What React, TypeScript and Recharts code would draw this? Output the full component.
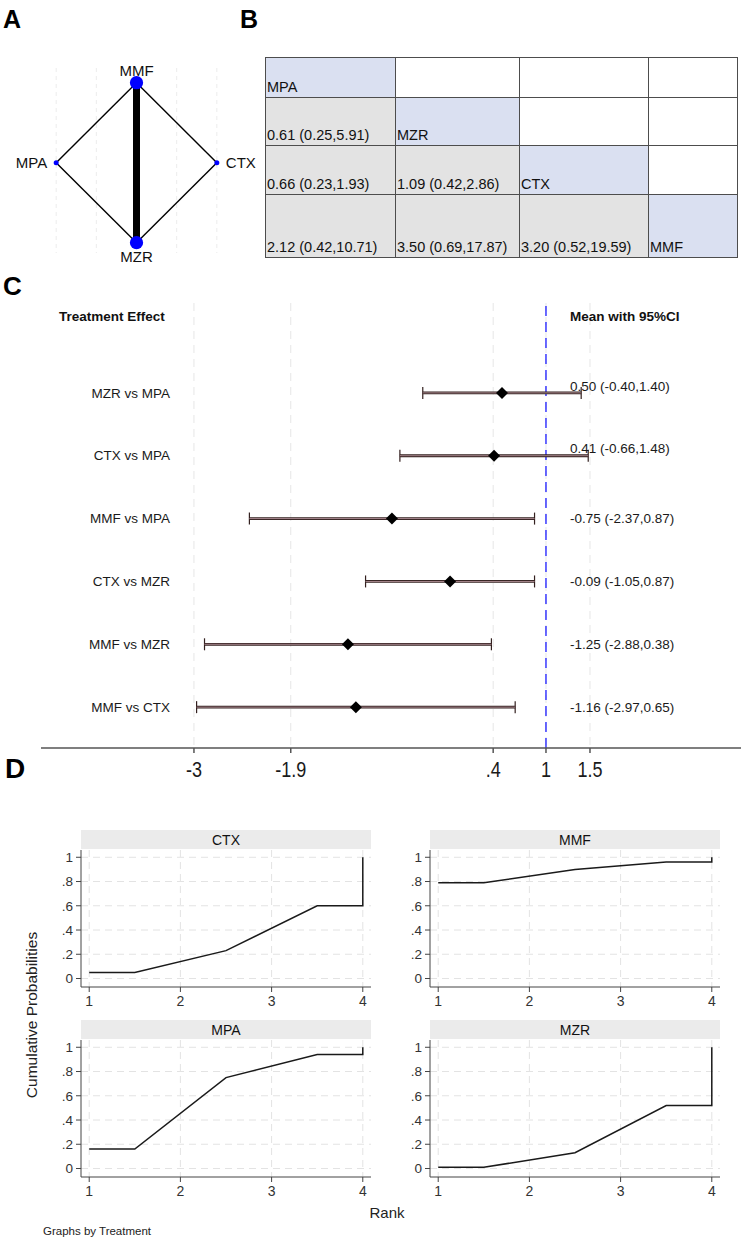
import React from "react";
import {
  ScatterChart,
  Scatter,
  LineChart,
  Line,
  XAxis,
  YAxis,
  CartesianGrid,
  ReferenceLine,
  ErrorBar,
} from "recharts";

// ---- network graph (A) ----
const nodeNames = ["MMF", "MPA", "CTX", "MZR"];
const nodeX = [0, -1, 1, 0];
const nodeY = [1, 0, 0, -1];
const nodeWeight = [7, 1, 1, 7];
const nodeLabelSide = ["top", "left", "right", "bottom"];
const edgeFrom = ["MMF", "MMF", "MMF", "MPA", "CTX"];
const edgeTo = ["MPA", "CTX", "MZR", "MZR", "MZR"];
const edgeWeight = [1, 1, 5, 1, 1];
const networkGrid = [-1, -0.5, 0, 0.5, 1];

// ---- league table (B) ----
const leagueTreatments = ["MPA", "MZR", "CTX", "MMF"];
const leagueEst = [[], [0.61], [0.66, 1.09], [2.12, 3.5, 3.2]];
const leagueLo = [[], [0.25], [0.23, 0.42], [0.42, 0.69, 0.52]];
const leagueHi = [[], [5.91], [1.93, 2.86], [10.71, 17.87, 19.59]];

// ---- forest plot (C) ----
const comparisons = ["MZR vs MPA", "CTX vs MPA", "MMF vs MPA", "CTX vs MZR", "MMF vs MZR", "MMF vs CTX"];
const effectMean = [0.5, 0.41, -0.75, -0.09, -1.25, -1.16];
const effectLo = [-0.4, -0.66, -2.37, -1.05, -2.88, -2.97];
const effectHi = [1.4, 1.48, 0.87, 0.87, 0.38, 0.65];
const forestTicks = [-3, -1.9, 0.4, 1, 1.5];

// ---- cumulative rank probabilities (D) ----
const rankSteps = [1, 1.5, 2.5, 3.5, 4, 4];
const cumCTX = [0.05, 0.05, 0.23, 0.6, 0.6, 1];
const cumMMF = [0.79, 0.79, 0.9, 0.96, 0.96, 1];
const cumMPA = [0.16, 0.16, 0.75, 0.94, 0.94, 1];
const cumMZR = [0.01, 0.01, 0.13, 0.52, 0.52, 1];
const rankTicks = [1, 2, 3, 4];
const probTicks = [0, 0.2, 0.4, 0.6, 0.8, 1];

const ARIAL = "Arial, 'Liberation Sans', Helvetica, sans-serif";

// Stata drops the leading zero: .4, -.2
const stataNum = (v: number) => {
  if (v === 0) return "0";
  return String(v).replace(/^(-?)0\./, "$1.");
};

const f2 = (v: number) => v.toFixed(2);

const nodes = nodeNames.map((name, i) => ({
  name,
  x: nodeX[i],
  y: nodeY[i],
  weight: nodeWeight[i],
  side: nodeLabelSide[i],
}));
const nodeByName = (n: string) => nodes.find((d) => d.name === n)!;

const NodeShape = (props: any) => {
  const { cx, cy, payload } = props;
  const r = 2.5 * Math.sqrt(payload.weight);
  let tx = cx;
  let ty = cy;
  let anchor = "middle";
  if (payload.side === "top") ty = cy - 7;
  if (payload.side === "bottom") ty = cy + 19;
  if (payload.side === "left") {
    tx = cx - 9;
    ty = cy + 5.5;
    anchor = "end";
  }
  if (payload.side === "right") {
    tx = cx + 9;
    ty = cy + 5.5;
    anchor = "start";
  }
  return (
    <g>
      <circle cx={cx} cy={cy} r={r} fill="#0000ff" />
      <text x={tx} y={ty} textAnchor={anchor} fontSize={15} fontFamily={ARIAL} fill="#111">
        {payload.name}
      </text>
    </g>
  );
};

function NetworkPlot() {
  return (
    <ScatterChart width={260} height={270} margin={{ top: 68, right: 3, bottom: 17, left: 16 }}>
      <CartesianGrid horizontal={false} verticalValues={networkGrid} stroke="#ececec" strokeDasharray="4 4" />
      <XAxis type="number" dataKey="x" domain={[-1.5, 1.5]} ticks={networkGrid} hide />
      <YAxis type="number" dataKey="y" domain={[-1.129, 1.184]} hide />
      {edgeFrom.map((from, i) => {
        const a = nodeByName(from);
        const b = nodeByName(edgeTo[i]);
        return (
          <ReferenceLine
            key={from + edgeTo[i]}
            segment={[
              { x: a.x, y: a.y },
              { x: b.x, y: b.y },
            ]}
            stroke="#000"
            strokeWidth={1.4 * edgeWeight[i]}
            ifOverflow="visible"
          />
        );
      })}
      <Scatter data={nodes} shape={NodeShape} isAnimationActive={false} />
    </ScatterChart>
  );
}

// ---- league table ----
const colWidths = [130, 124, 129, 89];
const rowHeights = [40, 48, 49, 63];

function LeagueTable() {
  const cells: React.ReactNode[] = [];
  leagueTreatments.forEach((rowT, r) => {
    leagueTreatments.forEach((_, c) => {
      let bg = "#ffffff";
      let txt = "";
      if (r === c) {
        bg = "#dae0f1";
        txt = rowT;
      } else if (c < r) {
        bg = "#e3e3e3";
        txt = `${f2(leagueEst[r][c])} (${f2(leagueLo[r][c])},${f2(leagueHi[r][c])})`;
      }
      cells.push(
        <div
          key={`${r}-${c}`}
          style={{
            background: bg,
            borderRight: "1px solid #4d4d4d",
            borderBottom: "1px solid #4d4d4d",
            boxSizing: "border-box",
            display: "flex",
            alignItems: "flex-end",
            paddingLeft: 1,
            paddingBottom: 2,
            fontFamily: ARIAL,
            fontSize: 14.5,
            color: "#111",
            whiteSpace: "nowrap",
          }}
        >
          {txt}
        </div>
      );
    });
  });
  return (
    <div
      style={{
        display: "grid",
        gridTemplateColumns: colWidths.map((w) => `${w}px`).join(" "),
        gridTemplateRows: rowHeights.map((h) => `${h}px`).join(" "),
        borderTop: "1px solid #4d4d4d",
        borderLeft: "1px solid #4d4d4d",
        boxSizing: "border-box",
      }}
    >
      {cells}
    </div>
  );
}

// ---- forest plot ----
const forestRows = comparisons.map((label, i) => ({
  row: i,
  label,
  mean: effectMean[i],
  lo: effectLo[i],
  hi: effectHi[i],
  ciErr: [effectMean[i] - effectLo[i], effectHi[i] - effectMean[i]],
}));

const Diamond = (props: any) => {
  const { cx, cy } = props;
  return <path d={`M${cx},${cy - 6}L${cx + 6},${cy}L${cx},${cy + 6}L${cx - 6},${cy}Z`} fill="#000" />;
};

const ForestRowTick = (props: any) => {
  const { y, payload } = props;
  const r = forestRows[payload.value];
  if (!r) return null;
  // value text is lifted when the interval runs into the text column
  const lift = r.hi > 1.25 ? 7 : 0;
  return (
    <g fontFamily={ARIAL} fontSize={13.5} fill="#1a1a1a">
      <text x={170} y={y} dy="0.35em" textAnchor="end">
        {r.label}
      </text>
      <text x={570} y={y - lift} dy="0.35em" textAnchor="start">
        {`${f2(r.mean)} (${f2(r.lo)},${f2(r.hi)})`}
      </text>
    </g>
  );
};

// the axis labels use a slightly squeezed face
const ForestXTick = (props: any) => {
  const { x, y, payload } = props;
  return (
    <g transform={`translate(${x},${y}) scale(0.82,1)`}>
      <text x={0} y={0} dy="0.71em" textAnchor="middle" fontFamily={ARIAL} fontSize={22} fill="#1a1a1a">
        {stataNum(payload.value)}
      </text>
    </g>
  );
};

function ForestPlot() {
  return (
    <ScatterChart width={741} height={500} margin={{ top: 13, right: 0, bottom: 12, left: 40 }}>
      <CartesianGrid horizontal={false} verticalValues={forestTicks} stroke="#e6e6e6" strokeDasharray="8 6" />
      <XAxis
        type="number"
        dataKey="mean"
        domain={[-4.738, 3.216]}
        ticks={forestTicks}
        interval={0}
        allowDataOverflow
        height={30}
        tickSize={5}
        tickMargin={8}
        stroke="#555"
        strokeWidth={1.5}
        tick={ForestXTick}
      />
      <YAxis
        type="number"
        dataKey="row"
        domain={[-1.43, 5.65]}
        reversed
        allowDataOverflow
        width={1}
        ticks={[0, 1, 2, 3, 4, 5]}
        interval={0}
        axisLine={false}
        tickLine={false}
        tick={ForestRowTick}
      />
      <ReferenceLine x={1} stroke="#1a1aff" strokeDasharray="10 6" strokeWidth={1.3} />
      <Scatter data={forestRows} shape={Diamond} isAnimationActive={false}>
        <ErrorBar dataKey="ciErr" direction="x" width={6} stroke="#33201f" strokeWidth={1.2} isAnimationActive={false} />
        <ErrorBar dataKey="ciErr" direction="x" width={0} stroke="#33201f" strokeWidth={2.8} isAnimationActive={false} />
        <ErrorBar dataKey="ciErr" direction="x" width={0} stroke="#b4939b" strokeWidth={0.9} isAnimationActive={false} />
      </Scatter>
    </ScatterChart>
  );
}

// ---- rankogram panels ----
function RankPanel({ values }: { values: number[] }) {
  const data = rankSteps.map((r, i) => ({ rank: r, p: values[i] }));
  return (
    <LineChart width={331} height={164} data={data} margin={{ top: 2, right: 0, bottom: 0, left: 0 }}>
      <CartesianGrid
        verticalValues={rankTicks}
        horizontalValues={probTicks}
        stroke="#e3e3e3"
        strokeDasharray="7 5"
      />
      <XAxis
        type="number"
        dataKey="rank"
        domain={[0.91, 4.09]}
        ticks={rankTicks}
        interval={0}
        allowDataOverflow
        height={25}
        tickSize={5}
        tickMargin={4}
        stroke="#444"
        tick={{ fontSize: 14, fill: "#333", fontFamily: ARIAL }}
      />
      <YAxis
        type="number"
        domain={[-0.07, 1.06]}
        ticks={probTicks}
        interval={0}
        allowDataOverflow
        width={41}
        tickSize={5}
        tickMargin={3}
        tickFormatter={stataNum}
        stroke="#444"
        tick={{ fontSize: 13.5, fill: "#333", fontFamily: ARIAL }}
      />
      <Line
        type="linear"
        dataKey="p"
        stroke="#1a1a1a"
        strokeWidth={1.5}
        dot={false}
        isAnimationActive={false}
      />
    </LineChart>
  );
}

const panels = [
  { name: "CTX", values: cumCTX, left: 40, top: 848 },
  { name: "MMF", values: cumMMF, left: 389, top: 848 },
  { name: "MPA", values: cumMPA, left: 40, top: 1038 },
  { name: "MZR", values: cumMZR, left: 389, top: 1038 },
];

export default function App() {
  return (
    <div
      style={{
        position: "absolute",
        left: 0,
        top: 0,
        width: 741,
        height: 1240,
        background: "#fff",
        overflow: "hidden",
      }}
    >
      <div style={{ position: "absolute", left: 0, top: 0 }}>
        <NetworkPlot />
      </div>
      <div style={{ position: "absolute", left: 265, top: 57 }}>
        <LeagueTable />
      </div>
      <div style={{ position: "absolute", left: 0, top: 290 }}>
        <ForestPlot />
      </div>
      {panels.map((p) => (
        <div key={p.name} style={{ position: "absolute", left: p.left, top: p.top }}>
          <RankPanel values={p.values} />
        </div>
      ))}
      <svg
        width={741}
        height={1240}
        style={{ position: "absolute", left: 0, top: 0, pointerEvents: "none" }}
      >
        <g fontFamily={ARIAL} fontWeight="bold" fill="#000">
          <text x={3} y={28} fontSize={25}>A</text>
          <text x={240} y={28} fontSize={25}>B</text>
          <text x={3} y={295} fontSize={26}>C</text>
          <text x={5} y={778} fontSize={28}>D</text>
        </g>
        <g fontFamily={ARIAL} fontWeight="bold" fontSize={13.5} fill="#111">
          <text x={59} y={321}>Treatment Effect</text>
          <text x={570} y={321}>Mean with 95%CI</text>
        </g>
        {panels.map((p) => {
          const x = p.left + 41;
          const y = p.top - 18;
          return (
            <g key={p.name}>
              <rect x={x} y={y} width={290} height={19} fill="#ebebeb" />
              <text x={x + 145} y={y + 15} textAnchor="middle" fontFamily={ARIAL} fontSize={14} fill="#111">
                {p.name}
              </text>
            </g>
          );
        })}
        <text
          transform="translate(37,1015) rotate(-90)"
          textAnchor="middle"
          fontFamily={ARIAL}
          fontSize={15.5}
          fill="#222"
        >
          Cumulative Probabilities
        </text>
        <text x={387} y={1218} textAnchor="middle" fontFamily={ARIAL} fontSize={15} fill="#222">
          Rank
        </text>
        <text x={43} y={1235} fontFamily={ARIAL} fontSize={11.5} fill="#222">
          Graphs by Treatment
        </text>
      </svg>
    </div>
  );
}
